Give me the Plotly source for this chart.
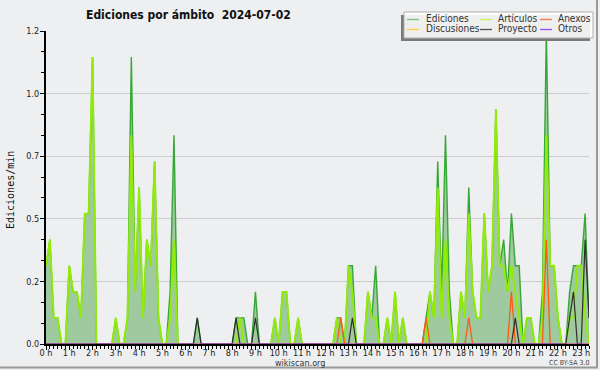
import plotly.graph_objects as go

# ---------------- data (10-minute bins, 00:00 .. 23:20) ----------------
bin_minutes = list(range(0, 1401, 10))
hours = [m / 60 for m in bin_minutes]

# Ediciones (total), edits per minute
ediciones = [
    0.3, 0.4, 0.1, 0.1, 0.0, 0.0, 0.3, 0.2, 0.2, 0.1, 0.5, 0.5,   # 00-02 h
    1.1, 0.0, 0.0, 0.0, 0.0, 0.0, 0.1, 0.0, 0.0, 0.1, 1.1, 0.2,   # 02-04 h
    0.6, 0.1, 0.4, 0.3, 0.7, 0.1, 0.0, 0.0, 0.2, 0.8, 0.0, 0.0,   # 04-06 h
    0.0, 0.0, 0.0, 0.1, 0.0, 0.0, 0.0, 0.0, 0.0, 0.0, 0.0, 0.0,   # 06-08 h
    0.0, 0.1, 0.1, 0.1, 0.0, 0.0, 0.2, 0.0, 0.0, 0.0, 0.0, 0.1,   # 08-10 h
    0.0, 0.2, 0.2, 0.0, 0.0, 0.1, 0.0, 0.0, 0.0, 0.0, 0.0, 0.0,   # 10-12 h
    0.0, 0.0, 0.0, 0.1, 0.1, 0.0, 0.3, 0.3, 0.0, 0.0, 0.0, 0.2,   # 12-14 h
    0.1, 0.3, 0.0, 0.0, 0.1, 0.0, 0.2, 0.0, 0.1, 0.0, 0.0, 0.0,   # 14-16 h
    0.0, 0.0, 0.1, 0.2, 0.1, 0.7, 0.2, 0.8, 0.2, 0.0, 0.0, 0.2,   # 16-18 h
    0.1, 0.6, 0.2, 0.1, 0.1, 0.5, 0.2, 0.3, 0.9, 0.3, 0.4, 0.2,   # 18-20 h
    0.5, 0.3, 0.3, 0.0, 0.1, 0.1, 0.0, 0.0, 0.2, 1.2, 0.3, 0.3,   # 20-22 h
    0.1, 0.0, 0.0, 0.2, 0.3, 0.3, 0.3, 0.5, 0.1,                  # 22-23:20 h
]

# Artículos
articulos = [
    0.3, 0.4, 0.1, 0.1, 0.0, 0.0, 0.3, 0.2, 0.2, 0.1, 0.5, 0.5,
    1.1, 0.0, 0.0, 0.0, 0.0, 0.0, 0.1, 0.0, 0.0, 0.1, 0.8, 0.2,
    0.6, 0.1, 0.4, 0.3, 0.7, 0.1, 0.0, 0.0, 0.1, 0.4, 0.0, 0.0,
    0.0, 0.0, 0.0, 0.0, 0.0, 0.0, 0.0, 0.0, 0.0, 0.0, 0.0, 0.0,
    0.0, 0.0, 0.1, 0.0, 0.0, 0.0, 0.0, 0.0, 0.0, 0.0, 0.0, 0.1,
    0.0, 0.2, 0.2, 0.0, 0.0, 0.1, 0.0, 0.0, 0.0, 0.0, 0.0, 0.0,
    0.0, 0.0, 0.0, 0.1, 0.0, 0.0, 0.3, 0.2, 0.0, 0.0, 0.0, 0.2,
    0.1, 0.1, 0.0, 0.0, 0.1, 0.0, 0.2, 0.0, 0.1, 0.0, 0.0, 0.0,
    0.0, 0.0, 0.0, 0.2, 0.1, 0.6, 0.1, 0.4, 0.1, 0.0, 0.0, 0.2,
    0.1, 0.5, 0.2, 0.1, 0.1, 0.5, 0.2, 0.3, 0.9, 0.3, 0.3, 0.2,
    0.3, 0.2, 0.1, 0.0, 0.1, 0.1, 0.0, 0.0, 0.1, 0.8, 0.3, 0.3,
    0.1, 0.0, 0.0, 0.1, 0.1, 0.3, 0.3, 0.1, 0.0,
]

# Sparse series: only the non-zero 10-minute bins ("HH:MM": edits/min)
anexos_nonzero = {"12:40": 0.1, "16:20": 0.1, "18:10": 0.1, "20:00": 0.2, "21:30": 0.4}
proyecto_nonzero = {"06:30": 0.1, "08:10": 0.1, "09:00": 0.1, "13:10": 0.1, "20:10": 0.1,
                    "22:30": 0.1, "22:40": 0.2, "23:10": 0.4, "23:20": 0.1}
discusiones_nonzero = {}
otros_nonzero = {}

series_names = ["Ediciones", "Artículos", "Anexos", "Discusiones", "Proyecto", "Otros"]
y_ticks = [0.0, 0.24, 0.48, 0.72, 0.96, 1.2]

title_text = "Ediciones por ámbito \u00a02024-07-02"


def expand(nonzero):
    vals = [0.0] * len(bin_minutes)
    for key, v in nonzero.items():
        h, m = key.split(":")
        vals[bin_minutes.index(int(h) * 60 + int(m))] = v
    return vals


anexos = expand(anexos_nonzero)
proyecto = expand(proyecto_nonzero)
discusiones = expand(discusiones_nonzero)
otros = expand(otros_nonzero)

# ---------------- styling ----------------
COND = "DejaVu Sans Condensed, DejaVu Sans, sans-serif"
MONO = "DejaVu Sans Mono, monospace"
BG = "#eeeff0"

plot_colors = {
    "Ediciones": "#36a836",
    "Artículos": "#92ec08",
    "Anexos": "#ff5a14",
    "Discusiones": "#ffc830",
    "Proyecto": "#2e2e2e",
    "Otros": "#9a3cff",
}
legend_colors = {
    "Ediciones": "#72c872",
    "Artículos": "#c8f060",
    "Anexos": "#ff7a48",
    "Discusiones": "#ffcc44",
    "Proyecto": "#505050",
    "Otros": "#9a4cff",
}

fig = go.Figure()
fig.add_trace(go.Scatter(x=hours, y=ediciones, mode="lines", name="Ediciones",
                         line=dict(color=plot_colors["Ediciones"], width=1.4),
                         fill="tozeroy", fillcolor="#9fca9f", showlegend=False))
fig.add_trace(go.Scatter(x=hours, y=articulos, mode="lines", name="Artículos",
                         line=dict(color=plot_colors["Artículos"], width=1.9), showlegend=False))
fig.add_trace(go.Scatter(x=hours, y=anexos, mode="lines", name="Anexos",
                         line=dict(color=plot_colors["Anexos"], width=1.3), showlegend=False))
fig.add_trace(go.Scatter(x=hours, y=discusiones, mode="lines", name="Discusiones",
                         line=dict(color=plot_colors["Discusiones"], width=1.3), showlegend=False))
fig.add_trace(go.Scatter(x=hours, y=proyecto, mode="lines", name="Proyecto",
                         line=dict(color=plot_colors["Proyecto"], width=1.2), showlegend=False))
fig.add_trace(go.Scatter(x=hours, y=otros, mode="lines", name="Otros",
                         line=dict(color=plot_colors["Otros"], width=1.2), showlegend=False))

# plot area in pixels
L, R, T, B = 46, 589, 31, 344
W, H = R - L, B - T


def px(x):
    return (x - L) / W


def py(y):
    return (B - y) / H


shapes = []
annotations = []

# outer frame (right and bottom edges)
shapes.append(dict(type="line", xref="paper", yref="paper", x0=px(597), x1=px(597),
                   y0=py(0), y1=py(368), line=dict(color="#9a9a9a", width=2), layer="above"))
shapes.append(dict(type="line", xref="paper", yref="paper", x0=px(0), x1=px(598),
                   y0=py(367.5), y1=py(367.5), line=dict(color="#9a9a9a", width=2), layer="above"))

# legend box with shadow
shapes.append(dict(type="rect", xref="paper", yref="paper", x0=px(401), x1=px(590),
                   y0=py(41), y1=py(15), fillcolor="#7a7a7a", line=dict(width=0), layer="above"))
shapes.append(dict(type="rect", xref="paper", yref="paper", x0=px(404), x1=px(593),
                   y0=py(38), y1=py(12), fillcolor="rgba(255,255,255,0.88)",
                   line=dict(color="#b0b0b0", width=1), layer="above"))

legend_layout = [  # (name, line x start, text x, row y)
    ("Ediciones", 407, 424, 19.5), ("Artículos", 480, 496, 19.5), ("Anexos", 540, 556, 19.5),
    ("Discusiones", 407, 424, 29.5), ("Proyecto", 480, 496, 29.5), ("Otros", 540, 556, 29.5),
]
for name, lx, tx, ry in legend_layout:
    shapes.append(dict(type="line", xref="paper", yref="paper", x0=px(lx), x1=px(lx + 12),
                       y0=py(ry), y1=py(ry), line=dict(color=legend_colors[name], width=1.3),
                       layer="above"))
    annotations.append(dict(text=name, xref="paper", yref="paper", x=px(tx), y=py(ry - 0.5),
                            xanchor="left", yanchor="middle", showarrow=False,
                            font=dict(family=COND, size=10, color="#333333")))

# title
annotations.append(dict(text="<b>" + title_text + "</b>", xref="paper", yref="paper",
                        x=px(84), y=py(14.5), xanchor="left", yanchor="middle", showarrow=False,
                        font=dict(family=COND, size=12, color="#111111")))
# y axis title
annotations.append(dict(text="Ediciones/min", xref="paper", yref="paper", x=px(10), y=py(190),
                        xanchor="center", yanchor="middle", textangle=-90, showarrow=False,
                        font=dict(family=MONO, size=10, color="#111111")))
# footers
annotations.append(dict(text="wikiscan.org", xref="paper", yref="paper", x=px(300), y=py(362.5),
                        xanchor="center", yanchor="middle", showarrow=False, borderpad=0,
                        font=dict(family=COND, size=9, color="#333333")))
annotations.append(dict(text="CC BY-SA 3.0", xref="paper", yref="paper", x=px(590), y=py(363),
                        xanchor="right", yanchor="middle", showarrow=False, borderpad=0,
                        font=dict(family=COND, size=7, color="#444444")))

fig.update_layout(
    width=600, height=370, autosize=False,
    margin=dict(l=L, r=600 - R, t=T, b=370 - B, pad=0),
    paper_bgcolor=BG, plot_bgcolor=BG,
    shapes=shapes, annotations=annotations,
    showlegend=False,
    xaxis=dict(range=[0, bin_minutes[-1] / 60], tickmode="linear", tick0=0, dtick=1,
               ticksuffix=" h", ticks="outside", ticklen=4, tickwidth=1, tickcolor="#000",
               ticklabelstandoff=-5,
               showline=True, linecolor="#000", linewidth=2, showgrid=False, zeroline=False,
               tickfont=dict(family=COND, size=9, color="#222"),
               minor=dict(tickmode="linear", tick0=0, dtick=1 / 6, ticks="outside", ticklen=3,
                          tickwidth=1, tickcolor="#000", showgrid=False),
               fixedrange=True),
    yaxis=dict(range=[0, 1.2], tickmode="array", tickvals=y_ticks, tickformat=".1f",
               ticks="outside", ticklen=4, tickwidth=1, tickcolor="#000",
               ticklabelstandoff=-1,
               showline=True, linecolor="#000", linewidth=2, showgrid=True,
               gridcolor="#cdcdcd", gridwidth=1, zeroline=False,
               tickfont=dict(family=COND, size=9, color="#222"),
               minor=dict(tickmode="linear", tick0=0, dtick=0.08, ticks="outside", ticklen=3,
                          tickwidth=1, tickcolor="#000", showgrid=False),
               fixedrange=True),
)

fig.write_html(
    "out.html",
    config={"displayModeBar": False},
    post_script=(
        "document.documentElement.style.margin='0px';"
        "document.documentElement.style.overflow='hidden';"
        "document.body.style.margin='0px';"
        "document.body.style.overflow='hidden';"
    ),
)
